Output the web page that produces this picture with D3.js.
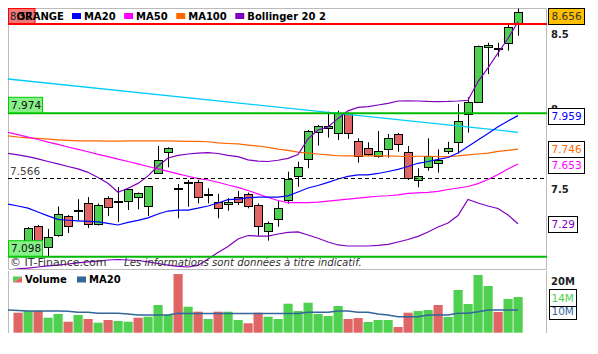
<!DOCTYPE html>
<html><head><meta charset="utf-8">
<script src="https://d3js.org/d3.v7.min.js"></script>
<style>
html,body{margin:0;padding:0;background:#fff;}
svg{display:block;}
text{font-family:"DejaVu Sans",Verdana,sans-serif;}
</style></head>
<body>
<svg id="chart" width="598" height="354"></svg>
<script>
// ---------- DATA ----------
const title = "ORANGE";
const sessions = d3.range(51); // 51 daily sessions, index 0..50
const opens  = [7.178,7.172,7.280,7.154,7.224,7.336,7.375,7.414,7.289,7.443,7.426,7.426,7.449,7.399,7.595,7.726,7.503,7.540,7.540,7.467,7.418,7.406,7.449,7.469,7.402,7.250,7.316,7.432,7.579,7.682,7.856,7.878,7.850,7.974,7.797,7.751,7.704,7.744,7.840,7.726,7.554,7.632,7.657,7.736,7.789,7.968,8.050,8.413,8.406,8.444,8.578];
const highs  = [7.189,7.271,7.283,7.260,7.393,7.342,7.437,7.450,7.411,7.454,7.511,7.499,7.477,7.517,7.765,7.757,7.529,7.554,7.554,7.503,7.469,7.443,7.487,7.477,7.412,7.303,7.426,7.605,7.667,7.867,7.899,7.984,7.991,7.979,7.814,7.789,7.860,7.841,7.848,7.765,7.626,7.814,7.744,7.792,8.035,8.078,8.425,8.444,8.444,8.566,8.720];
const lows   = [7.108,7.137,7.148,7.102,7.214,7.236,7.310,7.265,7.280,7.336,7.301,7.372,7.376,7.336,7.595,7.632,7.323,7.392,7.412,7.412,7.323,7.368,7.402,7.382,7.220,7.191,7.273,7.410,7.513,7.626,7.767,7.818,7.803,7.810,7.661,7.704,7.692,7.692,7.729,7.554,7.509,7.611,7.599,7.715,7.719,7.850,8.048,8.232,8.349,8.390,8.492];
const closes = [7.125,7.265,7.172,7.214,7.348,7.277,7.375,7.286,7.402,7.392,7.426,7.497,7.475,7.517,7.678,7.753,7.503,7.540,7.449,7.467,7.386,7.422,7.422,7.399,7.279,7.293,7.382,7.558,7.632,7.860,7.892,7.892,7.974,7.846,7.703,7.715,7.734,7.814,7.777,7.564,7.579,7.704,7.678,7.755,7.924,8.046,8.422,8.428,8.406,8.550,8.656];
// volumes in millions
const volumes = [7.84,8.51,8.51,5.88,7.33,4.31,6.94,5.37,3.92,4.98,4.59,4.31,5.88,6.27,10.86,6.94,23.0,10.2,8.24,5.37,8.24,8.24,4.98,3.69,7.84,6.27,5.37,11.37,8.51,11.76,7.33,6.55,10.47,5.37,5.76,4.20,4.98,4.98,2.24,7.84,8.51,8.90,10.86,6.16,16.75,11.25,22.63,18.31,8.12,13.22,14.0];
// indicator series: index -1 .. 50 (52 values)
const ma20  = [7.408,7.396,7.383,7.360,7.337,7.316,7.311,7.307,7.304,7.301,7.293,7.283,7.298,7.310,7.325,7.348,7.366,7.371,7.372,7.383,7.396,7.414,7.434,7.438,7.447,7.449,7.449,7.450,7.457,7.481,7.505,7.520,7.539,7.560,7.576,7.585,7.585,7.594,7.606,7.619,7.637,7.657,7.668,7.681,7.693,7.721,7.762,7.803,7.844,7.888,7.924,7.959];
const ma50  = [7.852,7.837,7.821,7.806,7.790,7.775,7.759,7.744,7.729,7.713,7.698,7.683,7.668,7.653,7.637,7.622,7.607,7.592,7.577,7.562,7.554,7.540,7.523,7.509,7.490,7.469,7.447,7.429,7.417,7.416,7.417,7.420,7.426,7.432,7.438,7.444,7.450,7.455,7.458,7.463,7.472,7.475,7.478,7.484,7.496,7.505,7.514,7.532,7.557,7.588,7.622,7.653];
const ma100 = [7.829,7.822,7.817,7.813,7.808,7.804,7.801,7.798,7.797,7.797,7.796,7.796,7.797,7.797,7.797,7.797,7.797,7.796,7.795,7.794,7.792,7.785,7.781,7.778,7.771,7.765,7.756,7.746,7.738,7.727,7.721,7.715,7.709,7.704,7.703,7.703,7.703,7.703,7.703,7.701,7.699,7.701,7.701,7.699,7.699,7.703,7.709,7.715,7.721,7.731,7.738,7.746];
const bollUp = [7.719,7.709,7.698,7.684,7.668,7.653,7.637,7.622,7.601,7.569,7.534,7.479,7.503,7.533,7.579,7.640,7.690,7.706,7.715,7.721,7.723,7.718,7.706,7.698,7.678,7.671,7.668,7.676,7.688,7.712,7.810,7.867,7.886,7.941,7.990,8.012,8.017,8.028,8.039,8.054,8.055,8.054,8.051,8.050,8.051,8.054,8.059,8.182,8.273,8.374,8.473,8.589];
const bollLow = [7.022,7.028,7.033,7.039,7.045,7.050,7.056,7.062,7.068,7.073,7.079,7.082,7.079,7.076,7.068,7.059,7.050,7.042,7.039,7.048,7.085,7.122,7.157,7.201,7.221,7.218,7.218,7.230,7.240,7.242,7.224,7.205,7.183,7.166,7.160,7.160,7.160,7.163,7.169,7.183,7.198,7.216,7.242,7.271,7.295,7.339,7.435,7.414,7.396,7.381,7.342,7.290];
const volMA20 = [8.9,8.7,8.5,8.5,8.5,8.5,8.4,8.0,8.0,7.6,7.6,7.6,7.3,6.9,6.9,6.9,6.9,7.6,7.5,7.5,7.5,7.5,7.5,7.5,7.5,7.5,7.5,7.5,7.5,7.5,8.0,8.0,8.0,8.5,8.5,8.0,8.0,7.3,6.9,6.3,6.3,6.3,6.9,6.9,6.9,7.6,7.6,8.2,8.9,8.9,8.9,8.9];
// trend line end points (index -1 and 50)
const trendIdx = [-1, 50];
const trendVals = [8.199, 7.852];
// horizontal levels
const greenLevels = [7.974, 7.098];
const redLevel = 8.573;
const dashedLevel = 7.566;
const priceTicks = [7.5, 8, 8.5];
const volTicks = [20];
const volLabelTexts = ["14M", "10M"];
const legendItems = [
  {label:"MA20", color:"#0000ff"},
  {label:"MA50", color:"#ff00ff"},
  {label:"MA100", color:"#ff6600"},
  {label:"Bollinger 20 2", color:"#8000c0"}
];

// ---------- SETUP ----------
const svg = d3.select("#chart");
const FONT = '"DejaVu Sans",Verdana,sans-serif';
const GREEN = "#50d050", RED = "#e06666";
const x = d3.scaleLinear().domain([-1, 50]).range([8, 518]);
const y = d3.scaleLog().domain([7.098, 7.974]).range([256.7, 113.3]);
const yv = d3.scaleLinear().domain([0, 20]).range([332.7, 281.7]);
const fmt = v => String(+v.toFixed(3));

svg.append("rect").attr("width",598).attr("height",354).attr("fill","#fff");
const defs = svg.append("defs");
defs.append("clipPath").attr("id","cMain").append("rect").attr("x",8).attr("y",8.5).attr("width",539).attr("height",260.5);
defs.append("clipPath").attr("id","cVol").append("rect").attr("x",8).attr("y",271).attr("width",539).attr("height",62);
defs.append("clipPath").attr("id","cRed").append("rect").attr("x",8).attr("y",8).attr("width",27).attr("height",16);

// borders
svg.append("path").attr("d","M8.5,269.5V8.5H546.5V269.5H8.5").attr("fill","none").attr("stroke","#bbbbbb");
svg.append("path").attr("d","M8.5,271V333M546.5,271V333").attr("fill","none").attr("stroke","#bbbbbb");

// ---------- CANDLES ----------
const gMain = svg.append("g").attr("clip-path","url(#cMain)");
const candles = gMain.append("g");
sessions.forEach(i => {
  const cx = Math.round(x(i));
  const o = opens[i], c = closes[i];
  candles.append("line").attr("x1",cx+0.5).attr("x2",cx+0.5)
    .attr("y1",y(highs[i])).attr("y2",y(lows[i])).attr("stroke","#000").attr("stroke-width",1);
  const top = Math.round(y(Math.max(o,c))), bot = Math.round(y(Math.min(o,c)));
  candles.append("rect").attr("x",cx-3.5).attr("y",top+0.5).attr("width",8)
    .attr("height",Math.max(bot-top,1))
    .attr("fill", c > o ? GREEN : (c < o ? RED : "#000"))
    .attr("stroke","#000").attr("stroke-width",1);
});

// ---------- INDICATOR LINES ----------
const idxLine = d3.line().x((d,j)=>x(j-1)).y(d=>y(d));
gMain.append("path").attr("d", d3.line().x(d=>x(d[0])).y(d=>y(d[1]))(trendIdx.map((t,k)=>[t,trendVals[k]])))
  .attr("fill","none").attr("stroke","#00ccff").attr("stroke-width",1.3);
[[ma100,"#ff6600"],[ma50,"#ff00ff"],[bollUp,"#8000c0"],[bollLow,"#8000c0"],[ma20,"#0000ff"]].forEach(([arr,col])=>{
  gMain.append("path").attr("d", idxLine(arr)).attr("fill","none").attr("stroke",col).attr("stroke-width",1.2);
});

// ---------- LEVELS ----------
greenLevels.forEach(v=>{
  gMain.append("line").attr("x1",8).attr("x2",547).attr("y1",y(v)).attr("y2",y(v))
    .attr("stroke","#00bb00").attr("stroke-width",2);
});
gMain.append("line").attr("x1",8).attr("x2",547).attr("y1",y(redLevel)).attr("y2",y(redLevel))
  .attr("stroke","#ff0000").attr("stroke-width",2);
gMain.append("line").attr("x1",8).attr("x2",547).attr("y1",Math.round(y(dashedLevel))+0.5).attr("y2",Math.round(y(dashedLevel))+0.5)
  .attr("stroke","#000").attr("stroke-width",1).attr("stroke-dasharray","4,3");

// left labels
greenLevels.forEach(v=>{
  const yl = y(v);
  svg.append("rect").attr("x",8.5).attr("y",yl-16).attr("width",34).attr("height",15.5)
    .attr("fill","#88f088").attr("stroke","#00cc00").attr("stroke-width",1);
  svg.append("text").attr("x",11).attr("y",yl-8.3).attr("dy","0.35em").attr("font-size",10.5)
    .attr("fill","#111").text(fmt(v));
});
svg.append("text").attr("x",10).attr("y",y(dashedLevel)-7).attr("dy","0.35em").attr("font-size",10.5)
  .attr("fill","#444").text(fmt(dashedLevel));
svg.append("rect").attr("x",8.5).attr("y",8.5).attr("width",26.5).attr("height",15)
  .attr("fill","#f07878").attr("stroke","#ff0000");
svg.append("text").attr("clip-path","url(#cRed)").attr("x",10).attr("y",16.5).attr("dy","0.35em")
  .attr("font-size",10).attr("fill","#222").text(fmt(redLevel));

// ---------- LEGEND ----------
svg.append("text").attr("x",16.5).attr("y",16.5).attr("dy","0.35em").attr("font-size",10)
  .attr("font-weight","bold").attr("fill","#000").text(title);
let lx = 72;
legendItems.forEach(it=>{
  svg.append("rect").attr("x",lx).attr("y",13).attr("width",9).attr("height",6).attr("fill",it.color);
  const t = svg.append("text").attr("x",lx+12).attr("y",16.5).attr("dy","0.35em").attr("font-size",10)
    .attr("font-weight","bold").attr("fill","#000").text(it.label);
  lx = lx + 12 + t.node().getComputedTextLength() + 8.5;
});

// ---------- COPYRIGHT ----------
svg.append("text").attr("x",10).attr("y",266).attr("font-size",11).attr("fill","#333").text("© IT-Finance.com");
svg.append("text").attr("x",124).attr("y",266).attr("font-size",10.2).attr("font-style","italic")
  .attr("fill","#333").text("Les informations sont données à titre indicatif.");

// ---------- RIGHT AXIS ----------
const ax = svg.append("g").attr("transform","translate(547,0)")
  .call(d3.axisRight(y).tickValues(priceTicks).tickSize(0).tickPadding(4).tickFormat(d3.format("~g")));
ax.select(".domain").remove();
ax.selectAll("text").attr("font-family",FONT).attr("font-size",10).attr("font-weight","bold").attr("fill","#222");

// right price labels
const rLabels = [
  {v: closes[50], fill:"#ffc000", color:"#333"},
  {v: ma20[51], fill:"#fff", color:"#0000ff"},
  {v: ma100[51], fill:"#fff", color:"#ff6600"},
  {v: ma50[51], fill:"#fff", color:"#ff00ff"},
  {v: bollLow[51], fill:"#fff", color:"#8000c0"}
].map(d=>({...d, yc: y(d.v)})).sort((a,b)=>a.yc-b.yc);
let prevBottom = 8;
rLabels.forEach(d=>{
  let top = Math.max(d.yc - 8, prevBottom);
  top = Math.round(top) + 0.5;
  const g = svg.append("g");
  const r = g.append("rect").attr("x",548.5).attr("y",top).attr("height",16)
    .attr("fill",d.fill).attr("stroke","#000");
  const t = g.append("text").attr("x",551.5).attr("y",top+8).attr("dy","0.35em").attr("font-size",10.5)
    .attr("fill",d.color).text(fmt(d.v));
  r.attr("width", Math.round(t.node().getComputedTextLength()) + 6);
  prevBottom = top + 16 - 0.5;
});

// ---------- VOLUME ----------
const gVol = svg.append("g").attr("clip-path","url(#cVol)");
sessions.forEach(i=>{
  const up = i === 0 ? closes[0] >= opens[0] : closes[i] >= closes[i-1];
  const cx = x(i);
  gVol.append("rect").attr("x",cx-4.5).attr("y",yv(volumes[i])).attr("width",9.2)
    .attr("height",yv(0)-yv(volumes[i])).attr("fill", up ? GREEN : RED);
});
gVol.append("path").attr("d", d3.line().x((d,j)=>x(j-1)).y(d=>yv(d))(volMA20))
  .attr("fill","none").attr("stroke","#336699").attr("stroke-width",1.5);

// volume legend
const vl = svg.append("g");
vl.append("path").attr("d","M13,276.5h9l-9,6z").attr("fill",GREEN);
vl.append("path").attr("d","M22,276.5v6h-9z").attr("fill",RED);
vl.append("text").attr("x",25).attr("y",279.5).attr("dy","0.35em").attr("font-size",10).attr("font-weight","bold").text("Volume");
vl.append("rect").attr("x",77).attr("y",276.5).attr("width",9).attr("height",6).attr("fill","#336699");
vl.append("text").attr("x",89).attr("y",279.5).attr("dy","0.35em").attr("font-size",10).attr("font-weight","bold").text("MA20");

// volume axis
const vax = svg.append("g").attr("transform","translate(547,0)")
  .call(d3.axisRight(yv).tickValues(volTicks).tickSize(0).tickPadding(4).tickFormat(d=>d+"M"));
vax.select(".domain").remove();
vax.selectAll("text").attr("font-family",FONT).attr("font-size",10).attr("font-weight","bold").attr("fill","#222");

// volume value labels (MA20 first, then volume on top)
[{v: volMA20[51], text: volLabelTexts[1], color:"#336699"},
 {v: volumes[50], text: volLabelTexts[0], color:GREEN}].forEach(d=>{
  const yc = yv(d.v);
  const top = Math.round(yc - 8.5) + 0.5;
  const r = svg.append("rect").attr("x",549.5).attr("y",top).attr("height",17).attr("fill","#fff").attr("stroke","#000");
  const t = svg.append("text").attr("x",551.5).attr("y",top+8.5).attr("dy","0.35em").attr("font-size",10.5)
    .attr("fill",d.color).text(d.text);
  r.attr("width", Math.round(t.node().getComputedTextLength()) + 5);
});
</script>
</body></html>
